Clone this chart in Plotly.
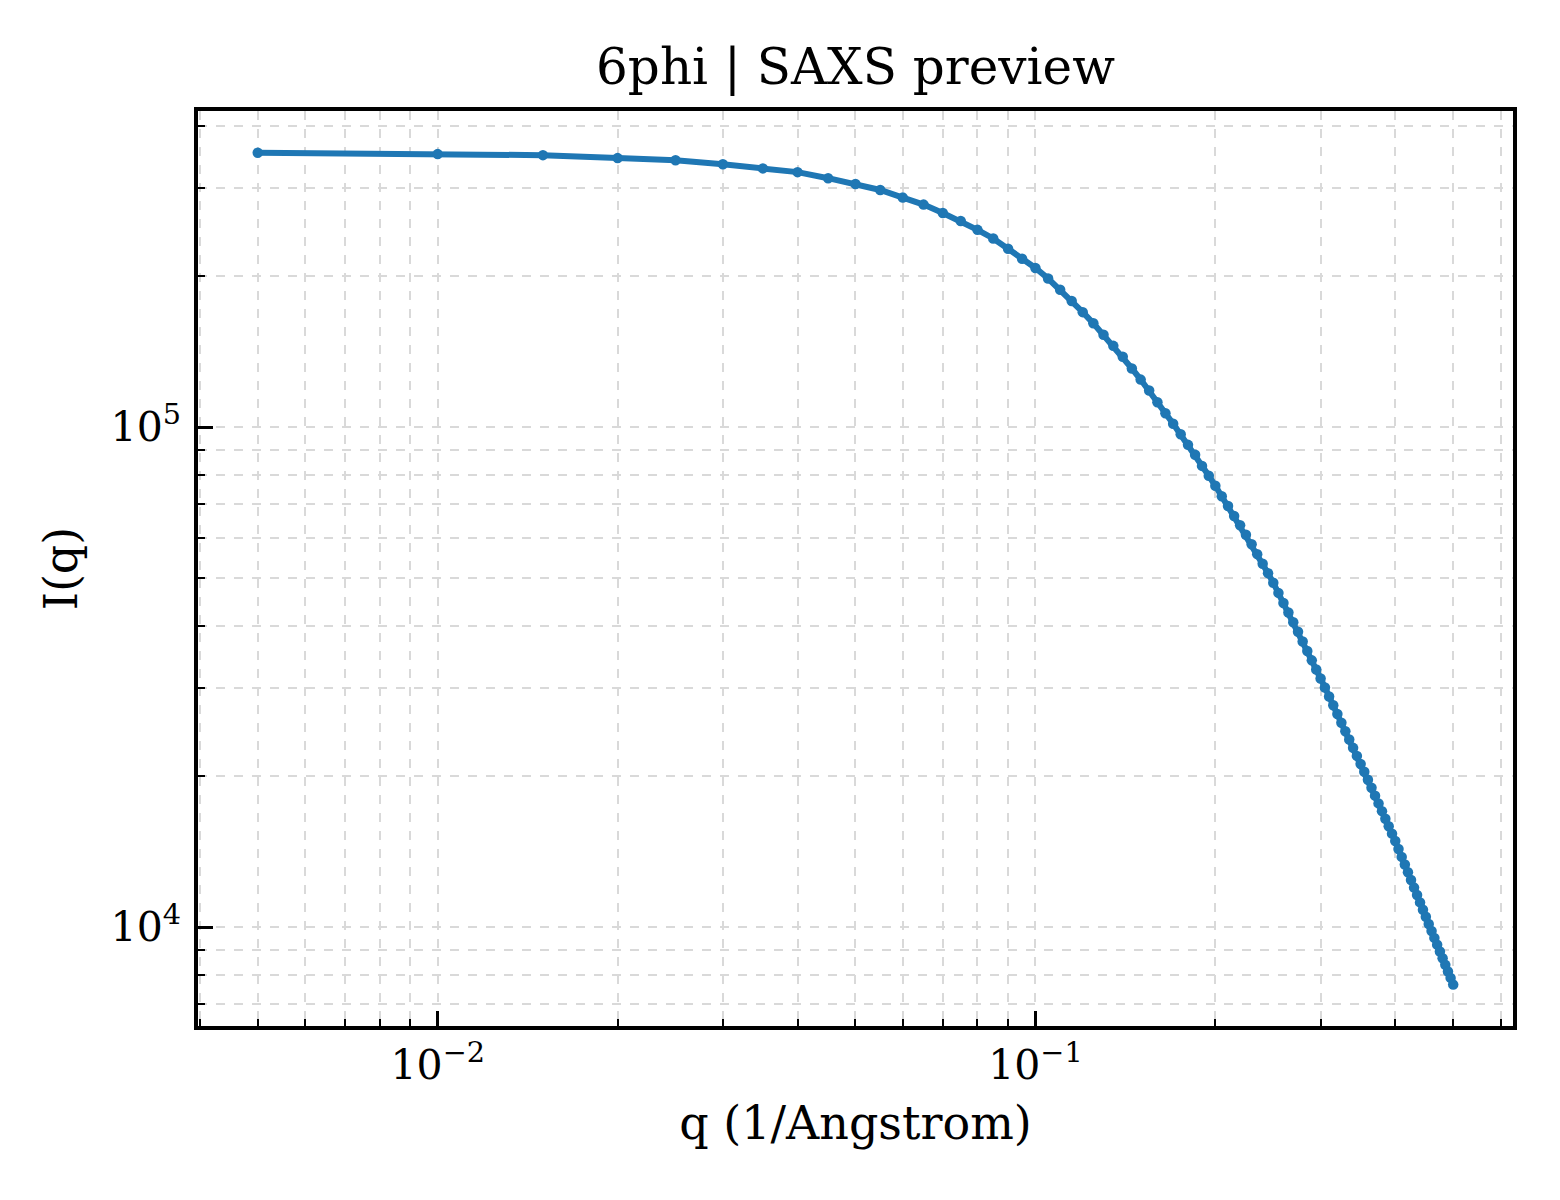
import plotly.graph_objects as go

# q grid (1/Angstrom)
q = [0.005, 0.010, 0.015, 0.020, 0.025, 0.030, 0.035, 0.040, 0.045, 0.050,
     0.055, 0.060, 0.065, 0.070, 0.075, 0.080, 0.085, 0.090, 0.095, 0.100,
     0.105, 0.110, 0.115, 0.120, 0.125, 0.130, 0.135, 0.140, 0.145, 0.150,
     0.155, 0.160, 0.165, 0.170, 0.175, 0.180, 0.185, 0.190, 0.195, 0.200,
     0.205, 0.210, 0.215, 0.220, 0.225, 0.230, 0.235, 0.240, 0.245, 0.250,
     0.255, 0.260, 0.265, 0.270, 0.275, 0.280, 0.285, 0.290, 0.295, 0.300,
     0.305, 0.310, 0.315, 0.320, 0.325, 0.330, 0.335, 0.340, 0.345, 0.350,
     0.355, 0.360, 0.365, 0.370, 0.375, 0.380, 0.385, 0.390, 0.395, 0.400,
     0.405, 0.410, 0.415, 0.420, 0.425, 0.430, 0.435, 0.440, 0.445, 0.450,
     0.455, 0.460, 0.465, 0.470, 0.475, 0.480, 0.485, 0.490, 0.495, 0.500]

# I(q)
intensity = [353500, 351400, 349700, 345000, 341500, 335300, 329000, 323400, 314500, 306300,
             297900, 287600, 278500, 268000, 258300, 247900, 238300, 227300, 217100, 208000,
             198100, 188100, 178600, 169700, 161200, 152900, 145300, 138200, 130900, 124400,
             118300, 112100, 106500, 101500, 96700, 92100, 88000, 83600, 79900, 76300,
             72700, 69500, 66400, 63600, 60900, 58300, 55680, 53280, 51020, 48800,
             46580, 44480, 42550, 40700, 38950, 37230, 35650, 34140, 32730, 31400,
             30140, 28910, 27760, 26670, 25620, 24640, 23710, 22820, 21990, 21190,
             20440, 19700, 18990, 18310, 17670, 17050, 16460, 15900, 15370, 14860,
             14320, 13810, 13330, 12870, 12420, 11990, 11590, 11200, 10830, 10480,
             10140, 9820, 9510, 9220, 8930, 8660, 8400, 8150, 7910, 7670]

x_tickvals = [0.01, 0.1]
x_ticktext = ["10<sup>\u22122</sup>", "10<sup>\u22121</sup>"]
y_tickvals = [1e4, 1e5]
y_ticktext = ["10<sup>4</sup>", "10<sup>5</sup>"]

x_minor = [m * 10 ** e for e in (-3, -2, -1) for m in range(2, 10)]
y_minor = [m * 10 ** e for e in (3, 4, 5) for m in range(2, 10)]

font = "DejaVu Serif"
grid = dict(showgrid=True, gridcolor="#d9d9d9", gridwidth=1.5, griddash="dash")

fig = go.Figure()
fig.add_trace(go.Scatter(x=q, y=intensity, mode="lines+markers",
                         line=dict(color="#1f77b4", width=6),
                         marker=dict(color="#1f77b4", size=10.5),
                         showlegend=False))

fig.update_layout(
    width=1560, height=1200,
    paper_bgcolor="white", plot_bgcolor="white",
    margin=dict(l=190, r=55, t=103, b=182),
    font=dict(family=font, color="black"),
    title=dict(text="6phi | SAXS preview", x=0.5, xref="paper", y=0.951, yref="container",
               xanchor="center", yanchor="middle", font=dict(size=50, family=font)),
)

fig.update_xaxes(
    type="log", range=[-2.401, -0.201],
    tickmode="array", tickvals=x_tickvals, ticktext=x_ticktext,
    ticks="inside", ticklen=15, tickwidth=3, tickcolor="black",
    tickfont=dict(size=41, family=font),
    showline=True, linecolor="black", linewidth=3.5, mirror=True,
    minor=dict(tickmode="array", tickvals=x_minor, ticks="inside", ticklen=7,
               tickwidth=2, tickcolor="black", **grid),
    title=dict(text="q (1/Angstrom)", font=dict(size=46, family=font), standoff=20),
    zeroline=False, automargin=False, **grid,
)
fig.update_yaxes(
    type="log", range=[3.802, 5.632],
    tickmode="array", tickvals=y_tickvals, ticktext=y_ticktext,
    ticks="inside", ticklen=15, tickwidth=3, tickcolor="black",
    tickfont=dict(size=41, family=font), ticklabelstandoff=5,
    showline=True, linecolor="black", linewidth=3.5, mirror=True,
    minor=dict(tickmode="array", tickvals=y_minor, ticks="inside", ticklen=7,
               tickwidth=2, tickcolor="black", **grid),
    title=dict(text="I(q)", font=dict(size=46, family=font), standoff=20),
    zeroline=False, automargin=False, **grid,
)

fig.write_html("out.html")
